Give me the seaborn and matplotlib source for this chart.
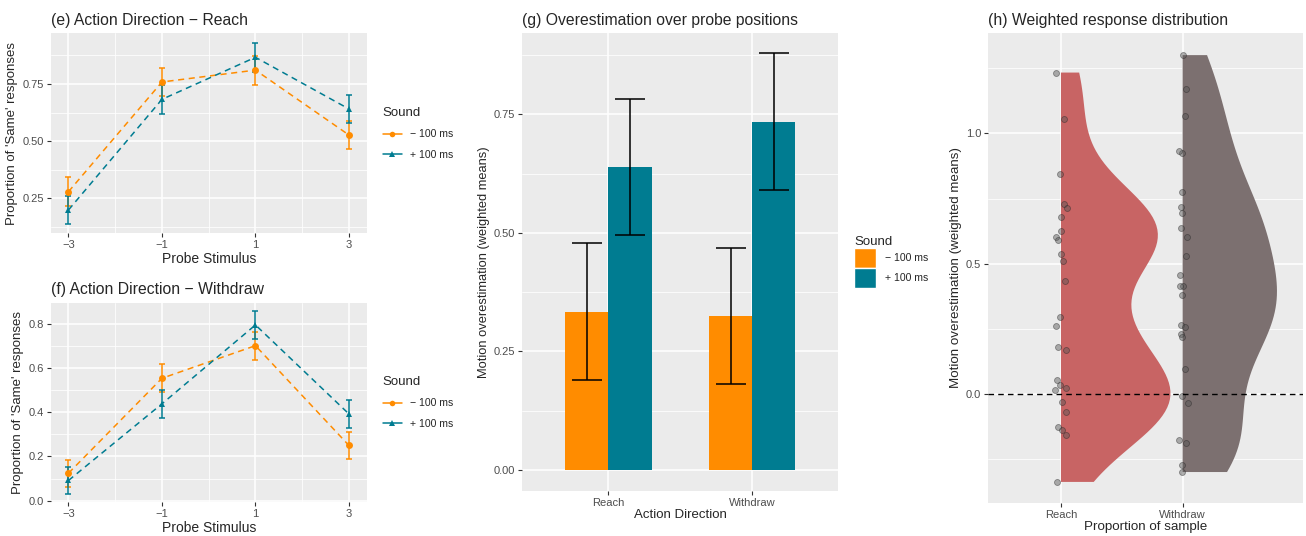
import numpy as np
import pandas as pd
import matplotlib
matplotlib.use("Agg")
import matplotlib.pyplot as plt
import seaborn as sns
from matplotlib.lines import Line2D
from matplotlib.patches import Patch
from matplotlib.ticker import FixedLocator, FormatStrFormatter

# ---------------- data ----------------
probe = [-3, -1, 1, 3]
sound_levels = ["\u2212 100 ms", "+ 100 ms"]

reach_minus = [0.279, 0.759, 0.811, 0.527]
reach_minus_se = [0.063, 0.063, 0.063, 0.063]
reach_plus = [0.199, 0.683, 0.867, 0.641]
reach_plus_se = [0.062, 0.063, 0.063, 0.063]

withdraw_minus = [0.124, 0.555, 0.703, 0.250]
withdraw_minus_se = [0.061, 0.064, 0.063, 0.062]
withdraw_plus = [0.091, 0.439, 0.797, 0.393]
withdraw_plus_se = [0.062, 0.064, 0.063, 0.064]

directions = ["Reach", "Withdraw"]
over_minus = [0.334, 0.325]
over_minus_err = [0.144, 0.144]
over_plus = [0.639, 0.735]
over_plus_err = [0.143, 0.144]

reach_points = [1.234, 1.054, 0.844, 0.729, 0.712, 0.679, 0.626, 0.603, 0.590,
                0.537, 0.511, 0.433, 0.293, 0.259, 0.179, 0.168, 0.052, 0.032,
                0.020, 0.015, -0.032, -0.072, -0.127, -0.141, -0.160, -0.339]
withdraw_points = [1.301, 1.172, 1.068, 0.924, 0.931, 0.775, 0.718, 0.694, 0.635,
                   0.602, 0.530, 0.456, 0.412, 0.415, 0.379, 0.265, 0.256, 0.230,
                   0.219, 0.095, -0.009, -0.036, -0.179, -0.188, -0.274, -0.301]

ORANGE = "#FF8C00"
TEAL = "#007C91"
VIOLIN_COLORS = {"Reach": "#C86464", "Withdraw": "#7C7070"}
palette = {sound_levels[0]: ORANGE, sound_levels[1]: TEAL}

TITLE_FS = 11.3
LEG_FS = 7.6

# ---------------- style ----------------
sns.set_theme(style="darkgrid")
plt.rcParams["font.family"] = ["Liberation Sans", "DejaVu Sans"]
plt.rcParams["axes.unicode_minus"] = True

fig = plt.figure(figsize=(13.06, 5.36), dpi=100)
W, H = 1306, 536


def add_ax(x0, y0, x1, y1):
    return fig.add_axes([x0 / W, 1 - y1 / H, (x1 - x0) / W, (y1 - y0) / H])


def style(ax):
    ax.set_facecolor("#EBEBEB")
    for s in ax.spines.values():
        s.set_visible(False)
    ax.set_axisbelow(True)
    ax.grid(True, which="major", color="white", lw=1.1)
    ax.grid(True, which="minor", color="white", lw=0.55)
    ax.tick_params(which="major", length=3, width=0.8, color="#333333",
                   labelsize=8, labelcolor="#4D4D4D", pad=2,
                   bottom=True, left=True)
    ax.tick_params(which="minor", length=0)


def line_panel(ax, minus, minus_se, plus, plus_se, title, yticks, yminor, ylim, fmt):
    df = pd.DataFrame({
        "probe": probe * 2,
        "prop": minus + plus,
        "se": minus_se + plus_se,
        "Sound": [sound_levels[0]] * 4 + [sound_levels[1]] * 4,
    })
    for lvl in sound_levels:
        d = df[df["Sound"] == lvl]
        ax.errorbar(d["probe"], d["prop"], yerr=d["se"], fmt="none",
                    ecolor=palette[lvl], elinewidth=1.1, capsize=2.4, capthick=1.1, zorder=2)
    sns.lineplot(data=df, x="probe", y="prop", hue="Sound", style="Sound",
                 hue_order=sound_levels, style_order=sound_levels,
                 palette=palette, markers={sound_levels[0]: "o", sound_levels[1]: "^"},
                 dashes={sound_levels[0]: (4, 3), sound_levels[1]: (4, 3)},
                 markersize=5, markeredgewidth=0, linewidth=1.1, legend=False, ax=ax, zorder=3)
    style(ax)
    ax.xaxis.set_major_locator(FixedLocator(probe))
    ax.xaxis.set_minor_locator(FixedLocator([-2, 0, 2]))
    ax.yaxis.set_major_locator(FixedLocator(yticks))
    ax.yaxis.set_minor_locator(FixedLocator(yminor))
    ax.yaxis.set_major_formatter(FormatStrFormatter(fmt))
    ax.set_xlim(-3.38, 3.38)
    ax.set_ylim(*ylim)
    ax.set_xlabel("Probe Stimulus", fontsize=10, labelpad=1)
    ax.set_ylabel("Proportion of 'Same' responses", fontsize=9.5, labelpad=3)
    ax.set_title(title, loc="left", fontsize=TITLE_FS, pad=6)
    handles = [
        Line2D([], [], color=ORANGE, marker="o", markersize=4, lw=1.1, markeredgewidth=0),
        Line2D([], [], color=TEAL, marker="^", markersize=4.5, lw=1.1, markeredgewidth=0),
    ]
    ax.legend(handles, sound_levels, title="Sound", loc="center left",
              bbox_to_anchor=(1.03, 0.5), frameon=False, fontsize=LEG_FS,
              title_fontsize=9.5, handlelength=1.8, handletextpad=0.8,
              labelspacing=1.0, alignment="left", borderaxespad=0.2)


# (e)
ax_e = add_ax(50.7, 33.3, 366.7, 233.3)
line_panel(ax_e, reach_minus, reach_minus_se, reach_plus, reach_plus_se,
           "(e) Action Direction \u2212 Reach", [0.25, 0.5, 0.75],
           [0.125, 0.375, 0.625, 0.875], (0.097, 0.972), "%.2f")

# (f)
ax_f = add_ax(50.7, 302.7, 366.7, 502.3)
line_panel(ax_f, withdraw_minus, withdraw_minus_se, withdraw_plus, withdraw_plus_se,
           "(f) Action Direction \u2212 Withdraw", [0.0, 0.2, 0.4, 0.6, 0.8],
           [0.1, 0.3, 0.5, 0.7], (-0.008, 0.898), "%.1f")

# (g)
ax_g = add_ax(522.3, 33.0, 838.3, 490.7)
df_g = pd.DataFrame({
    "Direction": directions * 2,
    "over": over_minus + over_plus,
    "err": over_minus_err + over_plus_err,
    "Sound": [sound_levels[0]] * 2 + [sound_levels[1]] * 2,
})
sns.barplot(data=df_g, x="Direction", y="over", hue="Sound", order=directions,
            hue_order=sound_levels, palette=palette, width=0.6, errorbar=None,
            saturation=1, legend=False, ax=ax_g, linewidth=0)
for patch, (_, row) in zip(ax_g.patches, df_g.iterrows()):
    xc = patch.get_x() + patch.get_width() / 2
    ax_g.errorbar([xc], [row["over"]], yerr=[row["err"]], fmt="none", ecolor="black",
                  elinewidth=1.1, capsize=10.5, capthick=1.1, zorder=4)
style(ax_g)
ax_g.xaxis.grid(True, which="major", color="white", lw=1.1)
ax_g.yaxis.set_major_locator(FixedLocator([0, 0.25, 0.5, 0.75]))
ax_g.yaxis.set_minor_locator(FixedLocator([0.125, 0.375, 0.625, 0.875]))
ax_g.yaxis.set_major_formatter(FormatStrFormatter("%.2f"))
ax_g.set_xlim(-0.6, 1.6)
ax_g.set_ylim(-0.044, 0.922)
ax_g.set_xlabel("Action Direction", fontsize=9.5, labelpad=1)
ax_g.set_ylabel("Motion overestimation (weighted means)", fontsize=9.3, labelpad=3)
ax_g.set_title("(g) Overestimation over probe positions", loc="left", fontsize=TITLE_FS, pad=6)
ax_g.legend([Patch(facecolor=ORANGE), Patch(facecolor=TEAL)], sound_levels,
            title="Sound", loc="center left", bbox_to_anchor=(1.03, 0.5), frameon=False,
            fontsize=LEG_FS, title_fontsize=9.5, handlelength=2.1, handleheight=2.5,
            handletextpad=0.8, labelspacing=0.0, alignment="left", borderaxespad=0.2)

# (h)
ax_h = add_ax(988, 33, 1303, 503)
df_h = pd.DataFrame({
    "Direction": ["Reach"] * len(reach_points) + ["Withdraw"] * len(withdraw_points),
    "value": reach_points + withdraw_points,
})
df_h["side"] = "right"
sns.violinplot(data=df_h, x="Direction", y="value", hue="side", hue_order=["left", "right"],
               order=directions, split=True, dodge=True, cut=0, inner=None,
               density_norm="area", width=1.8, bw_method="silverman", bw_adjust=0.65,
               linewidth=0, palette={"left": "#C86464", "right": "#C86464"},
               saturation=1, legend=False, ax=ax_h)
for coll, d in zip(ax_h.collections, directions):
    coll.set_facecolor(VIOLIN_COLORS[d])
    coll.set_edgecolor("none")
np.random.seed(7)
sns.stripplot(data=df_h, x="Direction", y="value", order=directions, jitter=0.05,
              color="#555555", alpha=0.45, size=4.3, edgecolor="#222222", linewidth=0.6,
              ax=ax_h, zorder=4)
ax_h.axhline(0, color="black", lw=1.0, ls=(0, (4, 3)), zorder=5)
style(ax_h)
ax_h.xaxis.grid(True, which="major", color="white", lw=1.1)
ax_h.yaxis.set_major_locator(FixedLocator([0.0, 0.5, 1.0]))
ax_h.yaxis.set_minor_locator(FixedLocator([-0.25, 0.25, 0.75, 1.25]))
ax_h.yaxis.set_major_formatter(FormatStrFormatter("%.1f"))
ax_h.set_xlim(-0.6, 1.99)
ax_h.set_ylim(-0.42, 1.386)
ax_h.set_xlabel("Proportion of sample", fontsize=9.6, labelpad=1)
ax_h.set_ylabel("Motion overestimation (weighted means)", fontsize=9.6, labelpad=3)
ax_h.set_title("(h) Weighted response distribution", loc="left", fontsize=TITLE_FS, pad=6)

fig.savefig("out.png", dpi=100, facecolor="white")
